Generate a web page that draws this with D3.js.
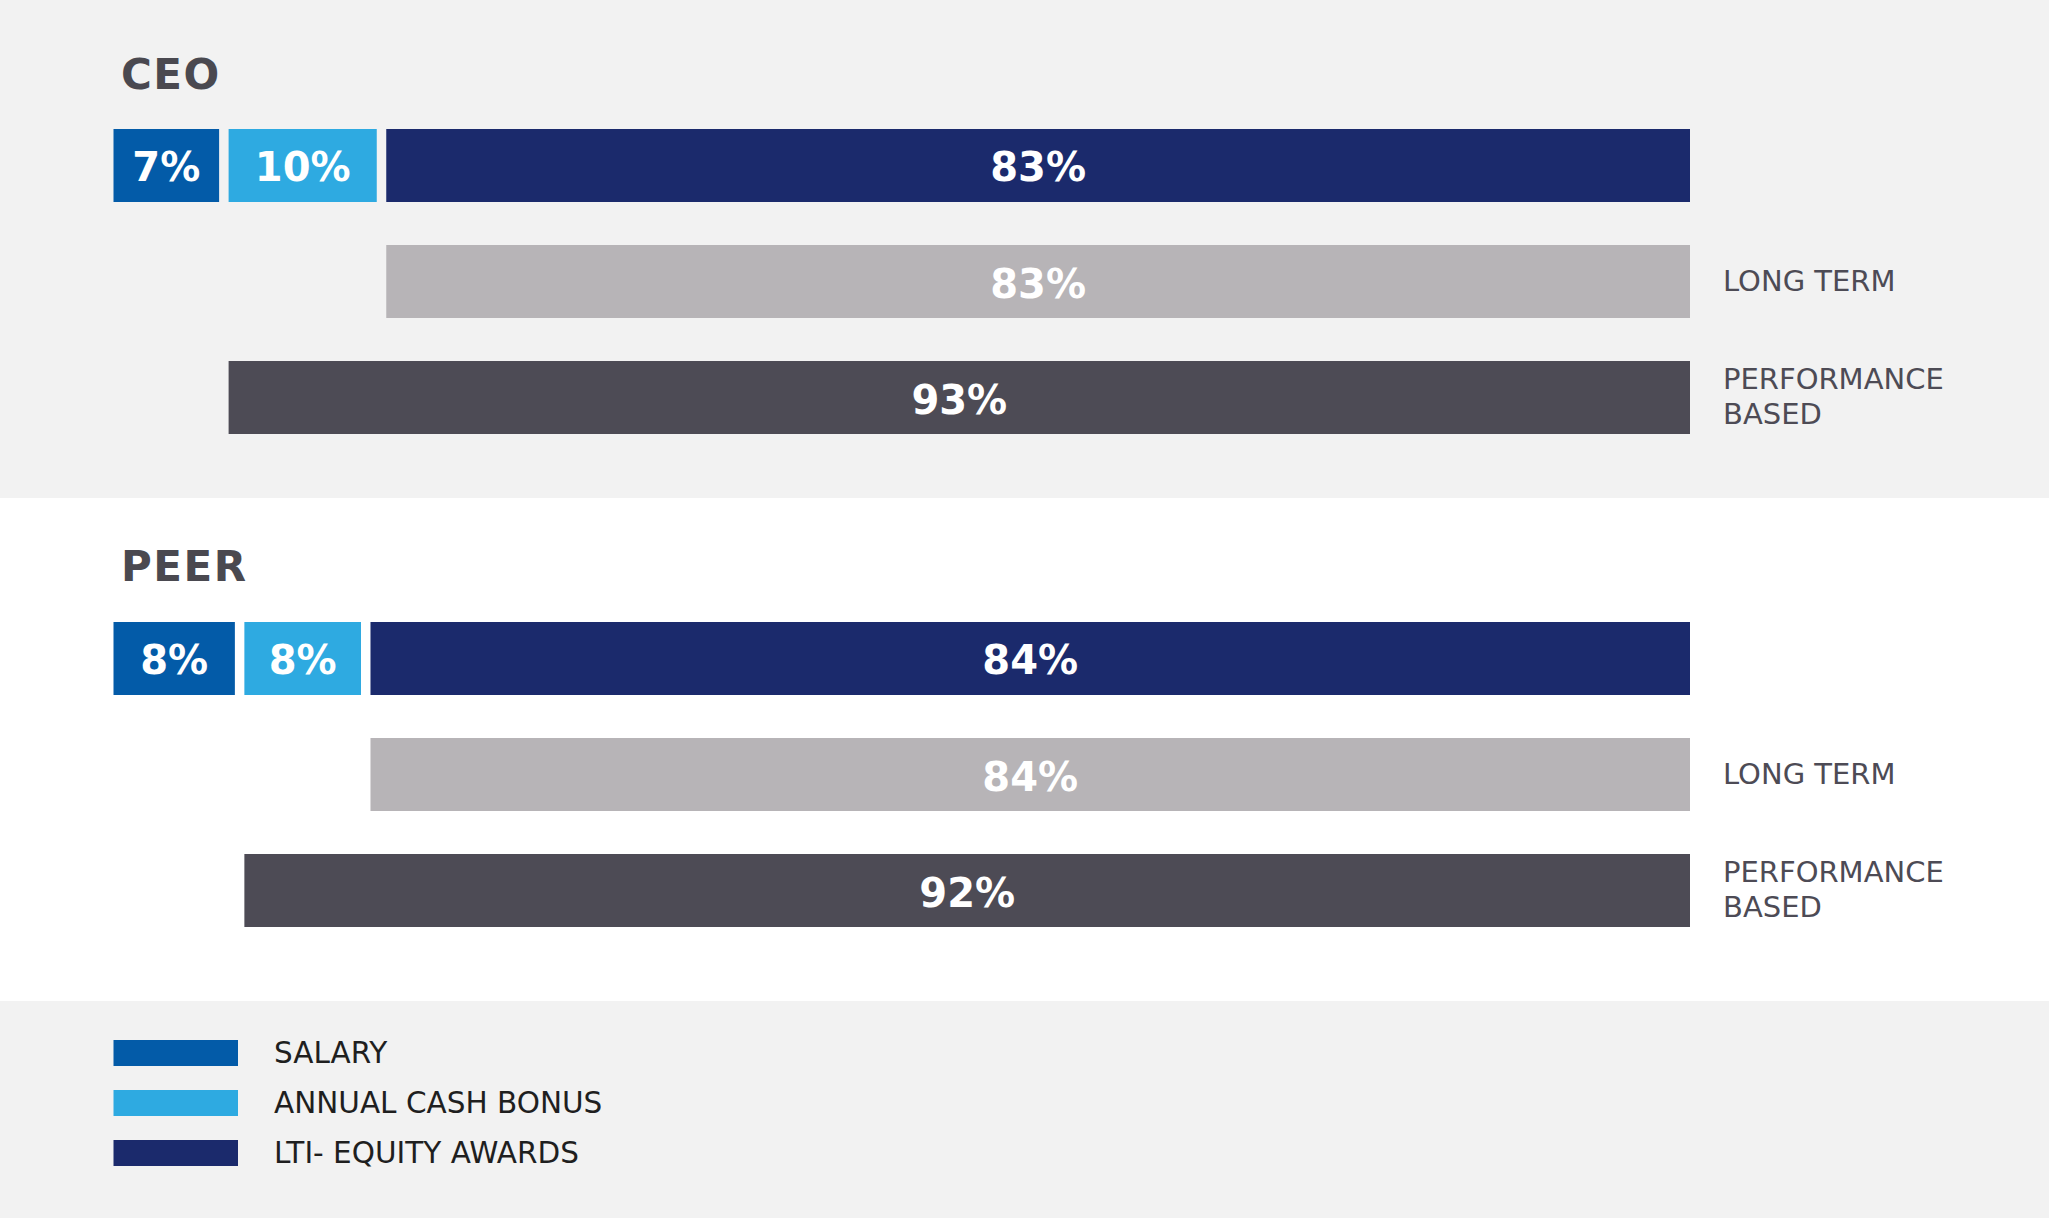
<!DOCTYPE html>
<html>
<head>
<meta charset="utf-8">
<script src="https://cdn.jsdelivr.net/npm/d3@7"></script>
<style>
  html, body { margin: 0; padding: 0; background: #f2f2f2; }
  svg { display: block; }
</style>
</head>
<body>
<script>
// ---- data ----
const groups = ["CEO", "PEER"];
const segments = ["SALARY", "ANNUAL CASH BONUS", "LTI- EQUITY AWARDS"];
const ceoMix = [7, 10, 83];
const peerMix = [8, 8, 84];
const longTerm = [83, 84];
const performanceBased = [93, 92];
const rowLabels = [["LONG TERM"], ["PERFORMANCE", "BASED"]];

// ---- styles / layout ----
const W = 2049, H = 1218;
const segColors = ["#035ba8", "#2eaae1", "#1b2a6c"];
const longColor = "#b7b4b7";
const perfColor = "#4d4b55";
const titleColor = "#4a4950";
const labelColor = "#4d4b55";
const legendTextColor = "#1f1f1f";
const gap = 9.5;

const panels = [
  { top: 0, bottom: 498, fill: "#f2f2f2", titleY: 89, bandTop: 129 },
  { top: 498, bottom: 1001, fill: "#ffffff", titleY: 581, bandTop: 622 }
];

const svg = d3.select("body").append("svg").attr("width", W).attr("height", H);

svg.append("rect").attr("x", 0).attr("y", 0).attr("width", W).attr("height", H).attr("fill", "#f2f2f2");

const x = d3.scaleLinear().domain([0, 100]).range([113.5, 1690]);
const color = d3.scaleOrdinal().domain(segments).range(segColors);

const mixes = [ceoMix, peerMix];

groups.forEach((g, gi) => {
  const p = panels[gi];
  svg.append("rect").attr("x", 0).attr("y", p.top).attr("width", W)
    .attr("height", p.bottom - p.top).attr("fill", p.fill);

  svg.append("text").attr("x", 121).attr("y", p.titleY)
    .attr("font-family", "DejaVu Sans").attr("font-weight", "bold")
    .attr("font-size", 42).attr("letter-spacing", 1.5).attr("fill", titleColor).text(g);

  const y = d3.scaleBand().domain(["mix", "long", "perf"])
    .range([p.bandTop, p.bandTop + 305]).paddingInner(0.3707).paddingOuter(0);
  const bh = y.bandwidth();

  // stacked mix row
  const vals = mixes[gi];
  let cum = 0;
  const stack = vals.map((v, i) => {
    const s = { key: segments[i], start: cum, end: cum + v, value: v, i };
    cum += v;
    return s;
  });
  const n = stack.length;
  const gMix = svg.append("g");
  stack.forEach(s => {
    const x0 = x(s.start) + (s.i > 0 ? gap / 2 : 0);
    const x1 = x(s.end) - (s.i < n - 1 ? gap / 2 : 0);
    gMix.append("rect").attr("x", x0).attr("y", y("mix"))
      .attr("width", x1 - x0).attr("height", bh).attr("fill", color(s.key));
    gMix.append("text").attr("x", (x0 + x1) / 2).attr("y", y("mix") + bh / 2 + 16)
      .attr("text-anchor", "middle").attr("font-family", "DejaVu Sans")
      .attr("font-weight", "bold").attr("font-size", 40).attr("fill", "#ffffff")
      .text(s.value + "%");
  });

  // long term & performance rows (aligned to the right end)
  const rows = [
    { key: "long", value: longTerm[gi], fill: longColor, labels: rowLabels[0] },
    { key: "perf", value: performanceBased[gi], fill: perfColor, labels: rowLabels[1] }
  ];
  rows.forEach(r => {
    const x0 = x(100 - r.value) + gap / 2;
    const x1 = x(100);
    svg.append("rect").attr("x", x0).attr("y", y(r.key))
      .attr("width", x1 - x0).attr("height", bh).attr("fill", r.fill);
    svg.append("text").attr("x", (x0 + x1) / 2).attr("y", y(r.key) + bh / 2 + 16)
      .attr("text-anchor", "middle").attr("font-family", "DejaVu Sans")
      .attr("font-weight", "bold").attr("font-size", 40).attr("fill", "#ffffff")
      .text(r.value + "%");
    const lh = 35;
    const cy = y(r.key) + bh / 2 + 9;
    const t = svg.append("text").attr("x", 1723)
      .attr("font-family", "DejaVu Sans").attr("font-size", 29).attr("fill", labelColor);
    r.labels.forEach((line, li) => {
      t.append("tspan").attr("x", 1723)
        .attr("y", cy + (li - (r.labels.length - 1) / 2) * lh).text(line);
    });
  });
});

// ---- legend ----
const ly = d3.scaleBand().domain(segments).range([1040, 1166]).paddingInner(0.48).paddingOuter(0);
const legend = svg.append("g");
segments.forEach(s => {
  legend.append("rect").attr("x", 113.5).attr("y", ly(s))
    .attr("width", 124.5).attr("height", ly.bandwidth()).attr("fill", color(s));
  legend.append("text").attr("x", 274).attr("y", ly(s) + ly.bandwidth() / 2 + 10)
    .attr("font-family", "DejaVu Sans").attr("font-size", 29.5).attr("fill", legendTextColor)
    .text(s);
});
</script>
</body>
</html>
